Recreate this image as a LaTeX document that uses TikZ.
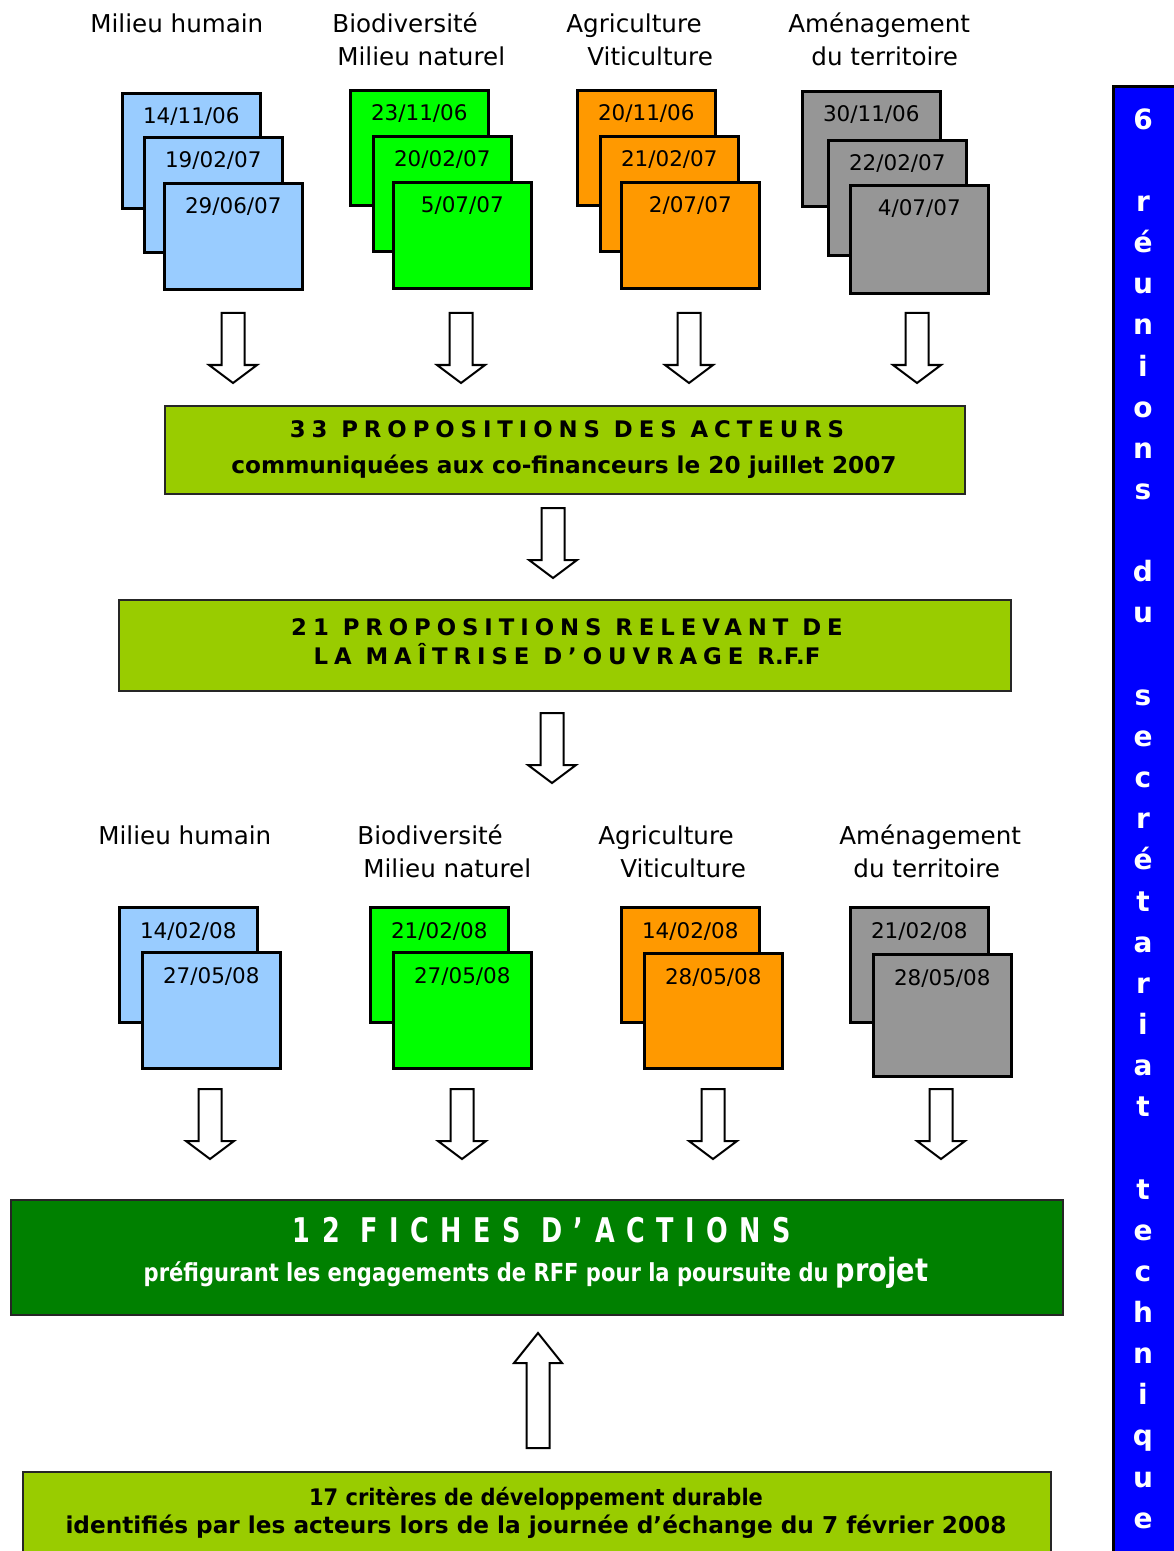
\documentclass[tikz,border=0pt]{standalone}
\usepackage{fontspec}
\setmainfont{DejaVu Sans}
\newfontfamily\capsfont[LetterSpace=26]{DejaVu Sans}
\newfontfamily\fichesfont[FakeStretch=0.75,LetterSpace=34]{DejaVu Sans}
\newfontfamily\narrowfont[FakeStretch=0.92]{DejaVu Sans}
\newfontfamily\prefont[FakeStretch=0.85]{DejaVu Sans}
\usetikzlibrary{calc}
\definecolor{cblue}{RGB}{153,204,255}
\definecolor{cgreen}{RGB}{0,255,0}
\definecolor{corange}{RGB}{255,153,0}
\definecolor{cgray}{RGB}{150,150,150}
\definecolor{cygreen}{RGB}{153,204,0}
\definecolor{cdgreen}{RGB}{0,128,0}
\definecolor{cbar}{RGB}{0,0,255}
\begin{document}
\begin{tikzpicture}[x=0.5pt,y=-0.5pt,
  card/.style={draw=black, line width=1.3pt, inner sep=0pt, anchor=north west, minimum width=69pt, minimum height=57.5pt},
  cardfront/.style={card, minimum height=53pt},
  lab/.style={font=\fontsize{12.3}{14}\selectfont, inner sep=0pt, anchor=base west},
  datetxt/.style={font=\fontsize{10.75}{13}\selectfont, inner sep=0pt, anchor=base},
  bigbox/.style={draw=black!85, line width=1.2pt, inner sep=0pt, anchor=north west},
  capstxt/.style={font=\capsfont\bfseries\fontsize{11.4}{13}\selectfont, inner sep=0pt, anchor=base},
  lowtxt/.style={font=\bfseries\fontsize{11.6}{14}\selectfont, inner sep=0pt, anchor=base},
  arrowline/.style={draw=black, line width=1pt, fill=white, line join=miter},
  downarr/.pic={\draw[arrowline] (-11.5,0) -- (11.5,0) -- (11.5,52) -- (24,52) -- (0,70) -- (-24,52) -- (-11.5,52) -- cycle;},
  uparr/.pic={\draw[arrowline] (-11.5,0) -- (11.5,0) -- (11.5,-85) -- (24,-85) -- (0,-115) -- (-24,-85) -- (-11.5,-85) -- cycle;}
]
\useasboundingbox (0,0) rectangle (1173,1551);
\fill[white] (0,0) rectangle (1173,1551);

% ---------- top labels ----------
\node[lab] (l1) at (90,33) {Milieu humain};
\node[lab] (l2a) at (332,33) {Biodiversité};
\node[lab] (l2b) at (337,66) {Milieu naturel};
\node[lab] (l3a) at (566,33) {Agriculture};
\node[lab] (l3b) at (587,66) {Viticulture};
\node[lab] (l4a) at (788,33) {Aménagement};
\node[lab] (l4b) at (811,66) {du territoire};

% ---------- top cards ----------
\node[card, fill=cblue] (a1) at (121,92) {};
\node[card, fill=cblue] (a2) at (143,136) {};
\node[cardfront, fill=cblue] (a3) at (163,182) {};
\node[card, fill=cgreen] (g1) at (349,89) {};
\node[card, fill=cgreen] (g2) at (372,135) {};
\node[cardfront, fill=cgreen] (g3) at (392,181) {};
\node[card, fill=corange] (o1) at (576,89) {};
\node[card, fill=corange] (o2) at (599,135) {};
\node[cardfront, fill=corange] (o3) at (620,181) {};
\node[card, fill=cgray] (y1) at (801,90) {};
\node[card, fill=cgray] (y2) at (827,139) {};
\node[cardfront, fill=cgray, minimum height=54pt] (y3) at (849,184) {};

\node[datetxt] (da1) at ($(a1.north)+(0,32)$) {14/11/06};
\node[datetxt] (da2) at ($(a2.north)+(0,32)$) {19/02/07};
\node[datetxt] (da3) at ($(a3.north)+(0,32)$) {29/06/07};
\node[datetxt] (dg1) at ($(g1.north)+(0,32)$) {23/11/06};
\node[datetxt] (dg2) at ($(g2.north)+(0,32)$) {20/02/07};
\node[datetxt] (dg3) at ($(g3.north)+(0,32)$) {5/07/07};
\node[datetxt] (do1) at ($(o1.north)+(0,32)$) {20/11/06};
\node[datetxt] (do2) at ($(o2.north)+(0,32)$) {21/02/07};
\node[datetxt] (do3) at ($(o3.north)+(0,32)$) {2/07/07};
\node[datetxt] (dy1) at ($(y1.north)+(0,32)$) {30/11/06};
\node[datetxt] (dy2) at ($(y2.north)+(0,32)$) {22/02/07};
\node[datetxt] (dy3) at ($(y3.north)+(0,32)$) {4/07/07};

% ---------- top arrows ----------
\pic at (233,313) {downarr};
\pic at (461,313) {downarr};
\pic at (689,313) {downarr};
\pic at (917,313) {downarr};

% ---------- box 1 ----------
\node[bigbox, fill=cygreen, minimum width=400pt, minimum height=44pt] (bx1) at (164,405) {};
\node[capstxt] (t1a) at (567,437) {33 PROPOSITIONS DES ACTEURS};
\node[lowtxt] (t1b) at (564,473) {communiquées aux co-financeurs le 20 juillet 2007};

\pic at (553,508) {downarr};

% ---------- box 2 ----------
\node[bigbox, fill=cygreen, minimum width=446pt, minimum height=45.5pt] (bx2) at (118,599) {};
\node[capstxt] (t2a) at (567,635) {21 PROPOSITIONS RELEVANT DE};
\node[capstxt] (t2b) at (567,664) {LA MAÎTRISE D’OUVRAGE {\addfontfeature{LetterSpace=0}R.F.F}};

\pic at (552,713) {downarr};

% ---------- bottom labels ----------
\node[lab] (m1) at (98,844) {Milieu humain};
\node[lab] (m2a) at (357,844) {Biodiversité};
\node[lab] (m2b) at (363,877) {Milieu naturel};
\node[lab] (m3a) at (598,844) {Agriculture};
\node[lab] (m3b) at (620,877) {Viticulture};
\node[lab] (m4a) at (839,844) {Aménagement};
\node[lab] (m4b) at (853,877) {du territoire};

% ---------- bottom cards ----------
\node[card, fill=cblue] (c1) at (118,906) {};
\node[card, fill=cblue, minimum height=58pt] (c2) at (141,951) {};
\node[card, fill=cgreen] (e1) at (369,906) {};
\node[card, fill=cgreen, minimum height=58pt] (e2) at (392,951) {};
\node[card, fill=corange] (f1) at (620,906) {};
\node[card, fill=corange] (f2) at (643,952) {};
\node[card, fill=cgray] (h1) at (849,906) {};
\node[card, fill=cgray, minimum height=61pt] (h2) at (872,953) {};

\node[datetxt] (dc1) at ($(c1.north)+(0,32)$) {14/02/08};
\node[datetxt] (dc2) at ($(c2.north)+(0,32)$) {27/05/08};
\node[datetxt] (de1) at ($(e1.north)+(0,32)$) {21/02/08};
\node[datetxt] (de2) at ($(e2.north)+(0,32)$) {27/05/08};
\node[datetxt] (df1) at ($(f1.north)+(0,32)$) {14/02/08};
\node[datetxt] (df2) at ($(f2.north)+(0,32)$) {28/05/08};
\node[datetxt] (dh1) at ($(h1.north)+(0,32)$) {21/02/08};
\node[datetxt] (dh2) at ($(h2.north)+(0,32)$) {28/05/08};

% ---------- bottom arrows ----------
\pic at (210,1089) {downarr};
\pic at (462,1089) {downarr};
\pic at (713,1089) {downarr};
\pic at (941,1089) {downarr};

% ---------- fiches box ----------
\node[bigbox, fill=cdgreen, minimum width=526pt, minimum height=57.5pt] (fx) at (10,1199) {};
\node[font=\fichesfont\bfseries\fontsize{17}{20}\selectfont, text=white, inner sep=0pt, anchor=base] (t3a) at (542,1242) {12 FICHES D’ACTIONS};
\node[font=\prefont\bfseries\fontsize{12.4}{15}\selectfont, text=white, inner sep=0pt, anchor=base] (t3b) at (536,1281) {préfigurant les engagements de RFF pour la poursuite du {\fontsize{16}{18}\selectfont projet}};

\pic at (538,1448) {uparr};

% ---------- criteria box ----------
\node[bigbox, fill=cygreen, minimum width=514pt, minimum height=50pt] (cx) at (22,1471) {};
\node[lowtxt, font=\narrowfont\bfseries\fontsize{11.4}{14}\selectfont] (t4a) at (536,1505) {17 critères de développement durable};
\node[lowtxt] (t4b) at (536,1533) {identifiés par les acteurs lors de la journée d’échange du 7 février 2008};

% ---------- vertical blue bar ----------
\node[draw=black, fill=cbar, line width=1.5pt, inner sep=0pt, anchor=north west, minimum width=60pt, minimum height=760pt] (bar) at (1112,85) {};
\node[font=\bfseries\fontsize{14}{20.575}\selectfont, text=white, align=center, inner sep=0pt, anchor=north] (bt) at (1143,108)
 {6\\\mbox{}\\r\\é\\u\\n\\i\\o\\n\\s\\\mbox{}\\d\\u\\\mbox{}\\s\\e\\c\\r\\é\\t\\a\\r\\i\\a\\t\\\mbox{}\\t\\e\\c\\h\\n\\i\\q\\u\\e};
\end{tikzpicture}
\end{document}
